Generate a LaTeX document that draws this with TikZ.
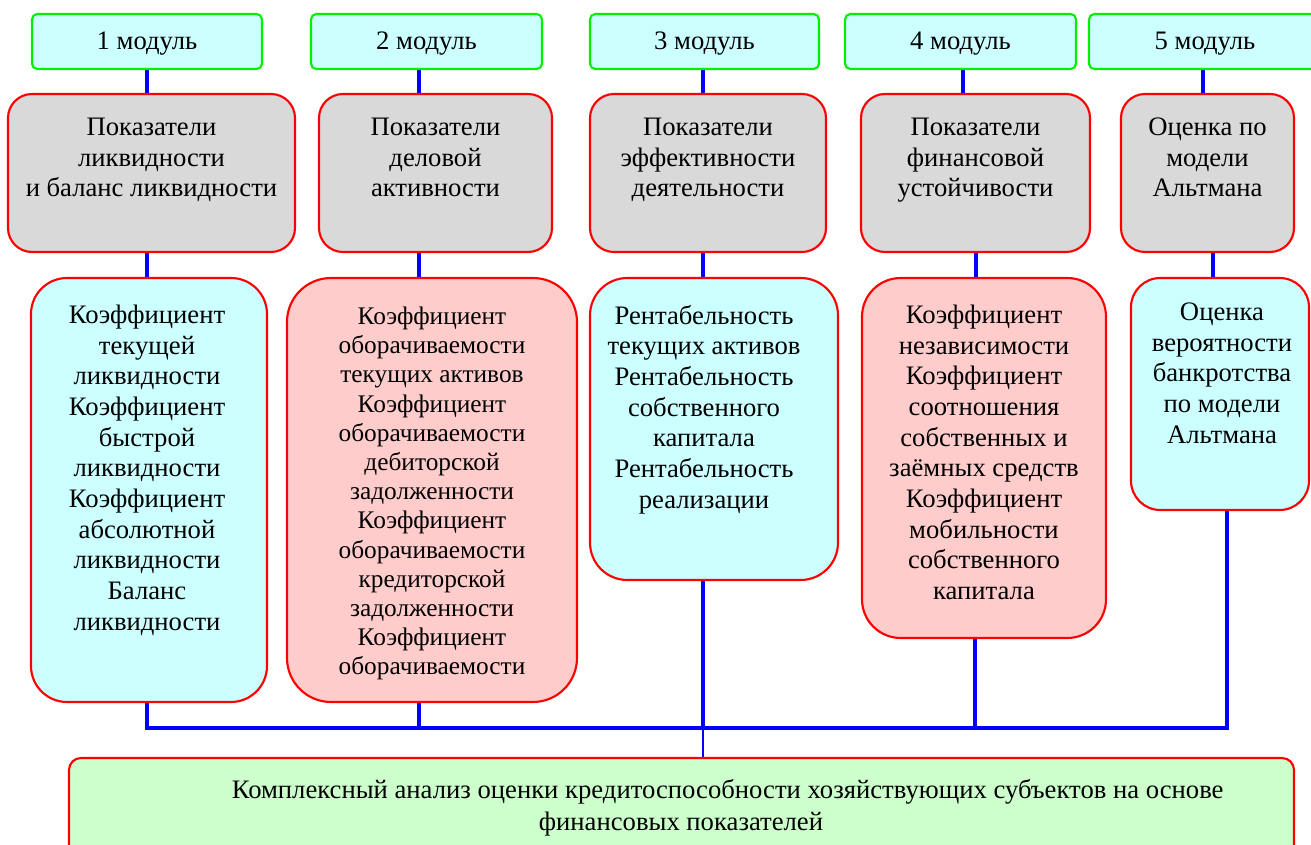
\documentclass[tikz,border=0pt]{standalone}
\usepackage{fontspec}
\setmainfont{Liberation Serif}
\usetikzlibrary{fit,calc,backgrounds}
\definecolor{lcyan}{HTML}{CCFFFF}
\definecolor{lgray}{HTML}{D9D9D9}
\definecolor{lpink}{HTML}{FFCCCC}
\definecolor{lgreen}{HTML}{CCFFCC}
\definecolor{mgreen}{HTML}{00F000}
\definecolor{bred}{HTML}{FF0000}
\definecolor{bblue}{HTML}{0000FF}
\tikzset{
  box/.style={draw, line width=1.6pt, inner sep=0pt, outer sep=0pt},
  modbox/.style={box, draw=mgreen, fill=lcyan, rounded corners=4pt},
  graybox/.style={box, draw=bred, fill=lgray, rounded corners=18pt},
  cyanbox/.style={box, draw=bred, fill=lcyan},
  pinkbox/.style={box, draw=bred, fill=lpink},
  finbox/.style={box, draw=bred, fill=lgreen, rounded corners=9pt},
  txt/.style={anchor=north, align=center, inner sep=0pt, outer sep=0pt,
     font=\fontsize{20}{23}\selectfont},
  modtxt/.style={anchor=base, inner sep=0pt, outer sep=0pt,
     font=\fontsize{20}{23}\selectfont},
  conn/.style={draw=bblue, line width=2.4pt},
  thinconn/.style={draw=bblue, line width=1pt},
}
\begin{document}
\begin{tikzpicture}[x=0.75pt,y=-0.75pt]
\useasboundingbox (0,0) rectangle (1311,845);
\clip (0,0) rectangle (1311,845);

% modules
\node[modbox, fit={(32,14) (262,69)}] (m1) {};
\node[modbox, fit={(311,14) (542,69)}] (m2) {};
\node[modbox, fit={(590,14) (819,69)}] (m3) {};
\node[modbox, fit={(845,14) (1076,69)}] (m4) {};
\node[modbox, fit={(1089,14) (1321,69)}] (m5) {};
\node[modtxt] (tm1) at ($(m1.center)+(0,8.5)$) {1 модуль};
\node[modtxt] (tm2) at ($(m2.center)+(0,8.5)$) {2 модуль};
\node[modtxt] (tm3) at ($(m3.center)+(0,8.5)$) {3 модуль};
\node[modtxt] (tm4) at ($(m4.center)+(0,8.5)$) {4 модуль};
\node[modtxt] (tm5) at ($(m5.center)+(0,8.5)$) {5 модуль};

% gray boxes
\node[graybox, fit={(8,94) (295,252)}] (g1) {};
\node[graybox, fit={(319,94) (552,252)}] (g2) {};
\node[graybox, fit={(590,94) (826,252)}] (g3) {};
\node[graybox, fit={(861,94) (1090,252)}] (g4) {};
\node[graybox, fit={(1121,94) (1294,252)}] (g5) {};

\node[txt] (tg1) at ($(g1.north)+(0,24)$) {Показатели\\ликвидности\\и баланс ликвидности};
\node[txt] (tg2) at ($(g2.north)+(0,24)$) {Показатели\\деловой\\активности};
\node[txt] (tg3) at ($(g3.north)+(0,24)$) {Показатели\\эффективности\\деятельности};
\node[txt] (tg4) at ($(g4.north)+(0,24)$) {Показатели\\финансовой\\устойчивости};
\node[txt] (tg5) at ($(g5.north)+(0,24)$) {Оценка по\\модели\\Альтмана};

% lower boxes
\node[cyanbox, rounded corners=27pt, fit={(31,278) (267,702)}] (b1) {};
\node[pinkbox, rounded corners=33pt, fit={(287,278) (577,702)}] (b2) {};
\node[cyanbox, rounded corners=28pt, fit={(590,278) (838,580)}] (b3) {};
\node[pinkbox, rounded corners=29pt, fit={(862,278) (1106,638)}] (b4) {};
\node[cyanbox, rounded corners=22pt, fit={(1131,278) (1309,510)}] (b5) {};

\node[txt] (tb1) at ($(b1.north)+(-2,27)$) {Коэффициент\\текущей\\ликвидности\\Коэффициент\\быстрой\\ликвидности\\Коэффициент\\абсолютной\\ликвидности\\Баланс\\ликвидности};
\node[txt, font=\fontsize{19}{21.9}\selectfont] (tb2) at ($(b2.north)+(0,29)$) {Коэффициент\\оборачиваемости\\текущих активов\\Коэффициент\\оборачиваемости\\дебиторской\\задолженности\\Коэффициент\\оборачиваемости\\кредиторской\\задолженности\\Коэффициент\\оборачиваемости};
\node[txt] (tb3) at ($(b3.north)+(-10,27)$) {Рентабельность\\текущих активов\\Рентабельность\\собственного\\капитала\\Рентабельность\\реализации};
\node[txt] (tb4) at ($(b4.north)+(0,27)$) {Коэффициент\\независимости\\Коэффициент\\соотношения\\собственных и\\заёмных средств\\Коэффициент\\мобильности\\собственного\\капитала};
\node[txt] (tb5) at ($(b5.north)+(2,25)$) {Оценка\\вероятности\\банкротства\\по модели\\Альтмана};

% final box
\node[finbox, fit={(69,758) (1294,880)}] (fin) {};
\node[txt, font=\fontsize{20}{24.5}\selectfont] (tfin) at (681,779) {\hspace*{70pt}Комплексный анализ оценки кредитоспособности хозяйствующих субъектов на основе\\финансовых показателей};

% connectors
\coordinate (ka) at (147,0);
\coordinate (kb) at (419,0);
\coordinate (kc) at (703,0);
\coordinate (kd) at (963,0);
\coordinate (kdd) at (976,0);
\coordinate (kddd) at (975,0);
\coordinate (ke) at (1203,0);
\coordinate (kee) at (1213,0);
\coordinate (keee) at (1227,0);
\coordinate (bus) at (0,728);

\begin{scope}[on background layer]
\draw[conn] (m1.south -| ka) -- (g1.north -| ka);
\draw[conn] (m2.south -| kb) -- (g2.north -| kb);
\draw[conn] (m3.south -| kc) -- (g3.north -| kc);
\draw[conn] (m4.south -| kd) -- (g4.north -| kd);
\draw[conn] (m5.south -| ke) -- (g5.north -| ke);

\draw[conn] (g1.south -| ka) -- (b1.north -| ka);
\draw[conn] (g2.south -| kb) -- (b2.north -| kb);
\draw[conn] (g3.south -| kc) -- (b3.north -| kc);
\draw[conn] (g4.south -| kdd) -- (b4.north -| kdd);
\draw[conn] (g5.south -| kee) -- (b5.north -| kee);

\draw[conn] (b1.south -| ka) -- (bus -| ka) -- (bus -| keee) -- (b5.south -| keee);
\draw[conn] (b2.south -| kb) -- (bus -| kb);
\draw[conn] (b3.south -| kc) -- (bus -| kc);
\draw[conn] (b4.south -| kddd) -- (bus -| kddd);
\draw[thinconn] (bus -| kc) -- (fin.north -| kc);
\end{scope}
\end{tikzpicture}
\end{document}
